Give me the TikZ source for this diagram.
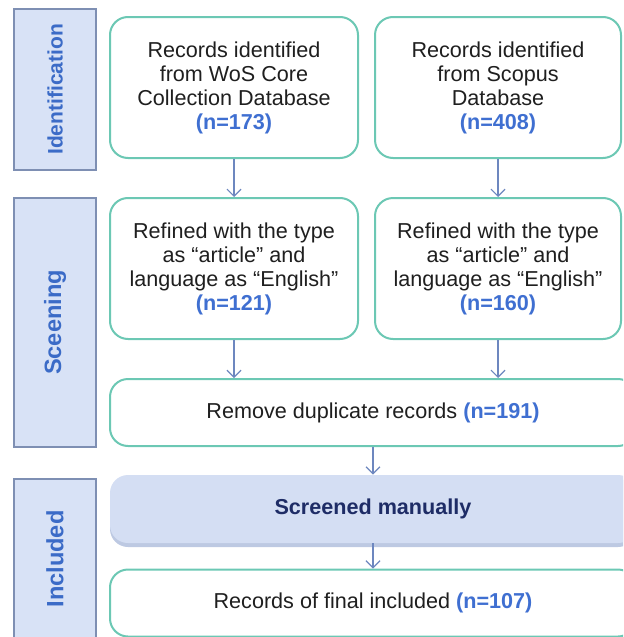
\documentclass[tikz,border=0pt]{standalone}
\usepackage{fontspec}
\setmainfont{Liberation Sans}
\usepackage{tikz}
\usetikzlibrary{arrows.meta}
\usetikzlibrary{shadows}
\definecolor{tealline}{HTML}{6CC8B4}
\definecolor{stagefill}{HTML}{D8E2F6}
\definecolor{stageline}{HTML}{7E8FB3}
\definecolor{stagetext}{HTML}{3B6BC7}
\definecolor{numblue}{HTML}{3F6FD1}
\definecolor{arrowblue}{HTML}{6D87BF}
\definecolor{manualfill}{HTML}{D4DEF3}
\definecolor{manualtext}{HTML}{1E2C66}
\newcommand{\cnt}[1]{{\color{numblue}\bfseries #1}}
\tikzset{
	stage/.style={draw=stageline, fill=stagefill, line width=0.7pt, rotate=90, minimum height=41pt, text=stagetext, font=\bfseries\fontsize{11.8}{12}\selectfont},
	recbox/.style={draw=tealline, line width=1pt, rounded corners=9pt, fill=white, align=center, text=black!88, font=\fontsize{10.8}{12}\selectfont, minimum width=124pt, minimum height=70.5pt},
	widebox/.style={recbox, minimum width=263pt, minimum height=33.5pt},
	manual/.style={fill=manualfill, rounded corners=9pt, minimum width=263pt, minimum height=34pt, text=manualtext, font=\bfseries\fontsize{10.8}{12}\selectfont, drop shadow={shadow xshift=0pt, shadow yshift=-2pt, fill=arrowblue, opacity=0.45}},
	flow/.style={arrowblue, line width=0.6pt, -{Straight Barb[length=3.5pt,width=7pt]}}
}
\begin{document}
\begin{tikzpicture}[x=0.5pt,y=-0.5pt]
	\useasboundingbox (0,0) rectangle (623,637);
	\clip (0,0) rectangle (623,637);
	%stages
	\node[stage, minimum width=80.5pt, font=\bfseries\fontsize{10.5}{12}\selectfont] (ident) at (55,89.5) {Identification};
	\node[stage, minimum width=124.5pt] (screening) at (55,322.5) {Sceening};
	\node[stage, minimum width=80pt] (incl) at (55,559) {Included};
	
	%databases
	\node[recbox] (wos) at (234,87.5) {Records identified\\from WoS Core\\Collection Database\\\cnt{(n=173)}};
	\node[recbox, minimum width=123pt] (scopus) at (498,87.5) {Records identified\\from Scopus\\Database\\\cnt{(n=408)}};
	
	%refined
	\node[recbox] (refwos) at (234,268.5) {Refined with the type\\as “article” and\\language as “English”\\\cnt{(n=121)}};
	\node[recbox, minimum width=123pt] (refscopus) at (498,268.5) {Refined with the type\\as “article” and\\language as “English”\\\cnt{(n=160)}};
	
	%merged
	\node[widebox] (dup) at (373,412.5) {Remove duplicate records \cnt{(n=191)}};
	\node[manual] (manual) at (373,509) {Screened manually};
	\node[widebox] (final) at (373,603) {Records of final included \cnt{(n=107)}};
	
	%arrows
	\draw[flow] (wos) -- (refwos);
	\draw[flow] (scopus) -- (refscopus);
	\draw[flow] (refwos) -- (refwos |- dup.north);
	\draw[flow] (refscopus) -- (refscopus |- dup.north);
	\draw[flow] (dup) -- (manual);
	\draw[flow] (manual) -- (final);
\end{tikzpicture}
\end{document}
